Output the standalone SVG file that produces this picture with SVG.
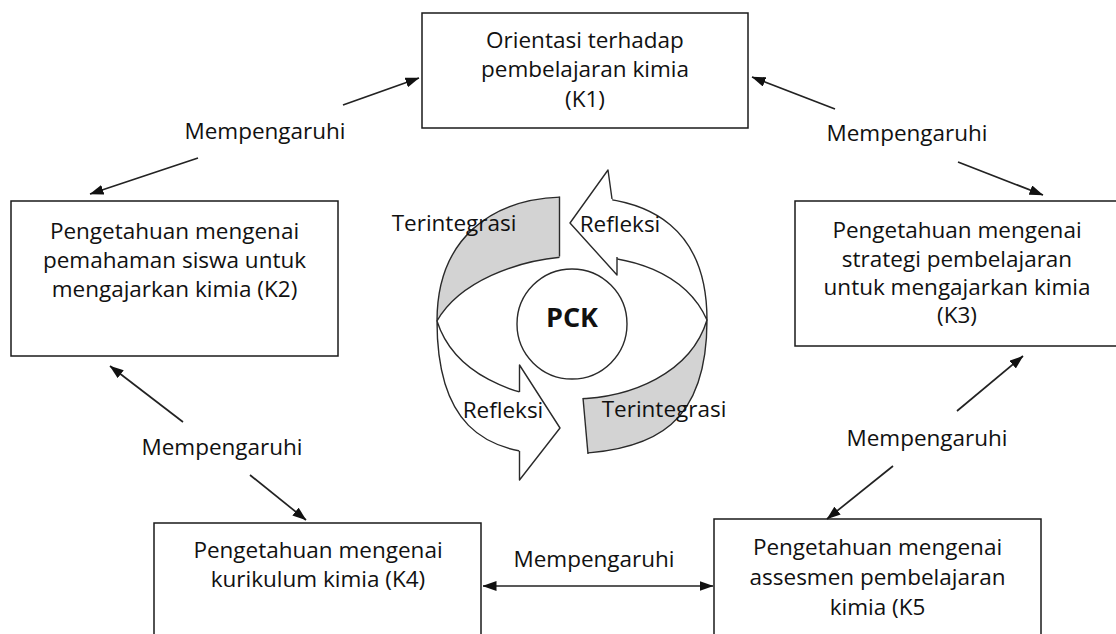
<svg xmlns="http://www.w3.org/2000/svg" width="1116" height="634" viewBox="0 0 1116 634">
<style>
  .box{fill:#fff;stroke:#1a1a1a;stroke-width:1.5}
  .t{font-family:"Open Sans","Liberation Sans",sans-serif;font-size:22.5px;fill:#111;text-anchor:middle}
  .pck{font-family:"Open Sans","Liberation Sans",sans-serif;font-size:27px;font-weight:bold;fill:#111;text-anchor:middle}
  .con{fill:none;stroke:#222;stroke-width:1.7}
  .band{stroke:#2a2a2a;stroke-width:1.4;stroke-linejoin:round}
  .gray{fill:#d3d3d3}
  .white{fill:#fff}
  .edge{fill:none;stroke:#2a2a2a;stroke-width:1.4}
</style>
<defs>
  <marker id="ah" viewBox="0 0 14 10" refX="13.5" refY="5" markerWidth="14" markerHeight="10" markerUnits="userSpaceOnUse" orient="auto-start-reverse">
    <path d="M0,0 L14,5 L0,10 z" fill="#111"/>
  </marker>
  <path id="upperBand" d="M437,321 C437,240 490,197 568,197 C655,195 707,232 707,320 C665,225 480,245 437,321 Z"/>
  <path id="lowerBand" d="M437,321 C437,420 480,456 560,454 C660,454 707,420 707,320 C675,425 470,425 437,321 Z"/>
  <clipPath id="cGrayTop"><rect x="400" y="150" width="159.5" height="190"/></clipPath>
  <clipPath id="cWhiteTop"><polygon points="607.8,150 760,150 760,330 623.3,330"/></clipPath>
  <clipPath id="cGrayBot"><polygon points="575,290 760,290 760,470 589.5,470 581.4,380 575,380"/></clipPath>
  <clipPath id="cWhiteBot"><rect x="420" y="300" width="99.5" height="170"/></clipPath>
</defs>
<rect width="1116" height="634" fill="#fff"/>

<g id="k1">
  <rect class="box" x="422" y="13" width="326" height="115"/>
  <text class="t" x="585" y="47.5">Orientasi terhadap</text>
  <text class="t" x="585" y="77">pembelajaran kimia</text>
  <text class="t" x="585" y="106.5">(K1)</text>
</g>
<g id="k2">
  <rect class="box" x="11" y="201" width="327" height="155"/>
  <text class="t" x="174.5" y="239">Pengetahuan mengenai</text>
  <text class="t" x="174.5" y="268">pemahaman siswa untuk</text>
  <text class="t" x="174.5" y="297">mengajarkan kimia (K2)</text>
</g>
<g id="k3">
  <rect class="box" x="795" y="201" width="335" height="145"/>
  <text class="t" x="957" y="238">Pengetahuan mengenai</text>
  <text class="t" x="957" y="267">strategi pembelajaran</text>
  <text class="t" x="957" y="295">untuk mengajarkan kimia</text>
  <text class="t" x="957" y="323">(K3)</text>
</g>
<g id="k4">
  <rect class="box" x="154" y="523" width="327" height="130"/>
  <text class="t" x="318" y="558">Pengetahuan mengenai</text>
  <text class="t" x="318" y="587">kurikulum kimia (K4)</text>
</g>
<g id="k5">
  <rect class="box" x="714" y="519" width="327" height="130"/>
  <text class="t" x="877.5" y="555">Pengetahuan mengenai</text>
  <text class="t" x="877.5" y="585">assesmen pembelajaran</text>
  <text class="t" x="877.5" y="615">kimia (K5</text>
</g>

<g id="pck">
  <use href="#upperBand" class="band gray" clip-path="url(#cGrayTop)"/>
  <line class="edge" x1="559.5" y1="196.5" x2="559.5" y2="256.5"/>
  <use href="#upperBand" class="band white" clip-path="url(#cWhiteTop)"/>
  <path class="band white" d="M612,199 L608,170 L570,223 L617,275 L617,257"/>
  <use href="#lowerBand" class="band gray" clip-path="url(#cGrayBot)"/>
  <line class="edge" x1="583" y1="398" x2="588" y2="454"/>
  <use href="#lowerBand" class="band white" clip-path="url(#cWhiteBot)"/>
  <path class="band white" d="M519.5,392 L519.5,365 L560,428 L519.5,480 L519.5,451"/>
  <circle cx="572" cy="324" r="55" fill="#fff" stroke="#2a2a2a" stroke-width="1.4"/>
  <text class="pck" x="572" y="327">PCK</text>
  <text class="t" x="454" y="231">Terintegrasi</text>
  <text class="t" x="620" y="232">Refleksi</text>
  <text class="t" x="503" y="418">Refleksi</text>
  <text class="t" x="664" y="417">Terintegrasi</text>
</g>

<g id="connectors">
  <line class="con" x1="343" y1="105" x2="419" y2="78" marker-end="url(#ah)"/>
  <line class="con" x1="198" y1="158" x2="90" y2="194" marker-end="url(#ah)"/>
  <line class="con" x1="835" y1="109" x2="752" y2="77" marker-end="url(#ah)"/>
  <line class="con" x1="958" y1="162" x2="1043" y2="195" marker-end="url(#ah)"/>
  <line class="con" x1="183" y1="422" x2="110" y2="366" marker-end="url(#ah)"/>
  <line class="con" x1="250" y1="475" x2="306" y2="520" marker-end="url(#ah)"/>
  <line class="con" x1="957" y1="411" x2="1023" y2="356" marker-end="url(#ah)"/>
  <line class="con" x1="893" y1="466" x2="827" y2="519" marker-end="url(#ah)"/>
  <line class="con" x1="483" y1="586" x2="713" y2="586" marker-start="url(#ah)" marker-end="url(#ah)"/>
</g>
<g id="labels">
  <text class="t" x="265" y="139">Mempengaruhi</text>
  <text class="t" x="907" y="141">Mempengaruhi</text>
  <text class="t" x="222" y="455">Mempengaruhi</text>
  <text class="t" x="927" y="446">Mempengaruhi</text>
  <text class="t" x="594" y="567">Mempengaruhi</text>
</g>
</svg>
